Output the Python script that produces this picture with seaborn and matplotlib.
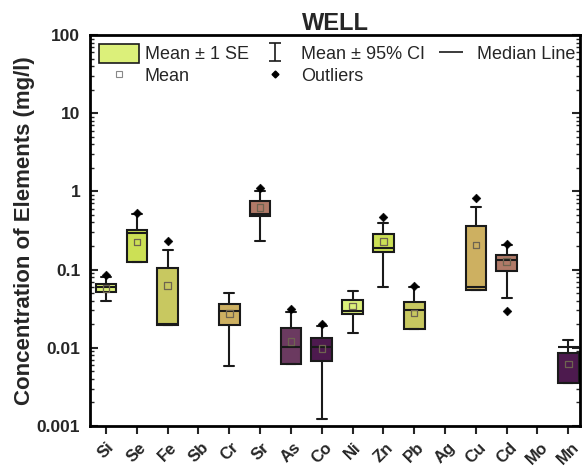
import numpy as np
import pandas as pd
import matplotlib
matplotlib.use("Agg")
import matplotlib.pyplot as plt
import seaborn as sns
from matplotlib.patches import Patch
from matplotlib.lines import Line2D
from matplotlib.legend_handler import HandlerErrorbar

# ---- data ----
elements = ["Si", "Se", "Fe", "Sb", "Cr", "Sr", "As", "Co",
            "Ni", "Zn", "Pb", "Ag", "Cu", "Cd", "Mo", "Mn"]
se_low   = [0.0512, 0.124, 0.0197, np.nan, 0.0197, 0.482, 0.00618, 0.00681,
            0.0270, 0.167, 0.0174, np.nan, 0.0549, 0.0971, np.nan, 0.00352]
se_high  = [0.0656, 0.323, 0.105, np.nan, 0.0363, 0.752, 0.0179, 0.01315,
            0.0409, 0.287, 0.0381, np.nan, 0.356, 0.154, np.nan, 0.00855]
medians  = [0.0605, 0.295, 0.0199, np.nan, 0.0298, 0.507, 0.0101, 0.0101,
            0.0298, 0.190, 0.0304, np.nan, 0.0593, 0.133, np.nan, 0.0103]
means    = [0.0576, 0.224, 0.0623, np.nan, 0.0275, 0.618, 0.0120, 0.0098,
            0.0343, 0.229, 0.0279, np.nan, 0.207, 0.127, np.nan, 0.00618]
ci_low   = [0.0392, 0.124, 0.0197, np.nan, 0.00588, 0.229, 0.00618, 0.00122,
            0.01525, 0.0605, 0.0174, np.nan, 0.0549, 0.0435, np.nan, 0.00352]
ci_high  = [0.0797, 0.507, 0.180, np.nan, 0.0503, 1.01, 0.0284, 0.01875,
            0.0533, 0.397, 0.0593, np.nan, 0.629, 0.209, np.nan, 0.0127]
outlier_elem = ["Si", "Se", "Fe", "Sr", "As", "Co", "Zn", "Pb", "Cu", "Cd", "Cd"]
outlier_vals = [0.0863, 0.53, 0.231, 1.11, 0.0313, 0.0201, 0.469, 0.061, 0.820, 0.212, 0.0298]
palette8 = ["#dcf07a", "#cce055", "#c8c860", "#ccbc60",
            "#cdb061", "#b07a68", "#6b3a60", "#4d1a4e"]

sns.set_theme(style="ticks")
plt.rcParams["font.family"] = ["Liberation Sans", "DejaVu Sans"]

fig = plt.figure(figsize=(5.83, 4.67), dpi=100)
ax = fig.add_axes([0.1544, 0.088, 0.8405, 0.837])

pos = np.arange(len(elements))
stats, bpos, cols = [], [], []
for i, e in enumerate(elements):
    if np.isnan(se_low[i]):
        continue
    stats.append(dict(med=medians[i], q1=se_low[i], q3=se_high[i],
                      whislo=ci_low[i], whishi=ci_high[i], fliers=[]))
    bpos.append(pos[i])
    cols.append(palette8[i % 8])

bp = ax.bxp(stats, positions=bpos, widths=0.67, patch_artist=True,
            showfliers=False, manage_ticks=False,
            boxprops=dict(edgecolor="#1a1a1a", linewidth=1.5),
            medianprops=dict(color="#1a1a1a", linewidth=1.5),
            whiskerprops=dict(color="#1a1a1a", linewidth=1.5),
            capprops=dict(color="#1a1a1a", linewidth=1.5), capwidths=0.33)
for patch, c in zip(bp["boxes"], cols):
    patch.set_facecolor(c)

mdf = pd.DataFrame({"element": elements, "x": pos, "mean": means}).dropna()
sns.scatterplot(data=mdf, x="x", y="mean", marker="s", s=22, facecolor="none",
                edgecolor="#6e6450", linewidth=0.9, ax=ax, zorder=5, legend=False)
odf = pd.DataFrame({"element": outlier_elem, "val": outlier_vals})
odf["x"] = odf["element"].map({e: i for i, e in enumerate(elements)})
sns.scatterplot(data=odf, x="x", y="val", marker="D", s=20, color="black",
                edgecolor="black", ax=ax, zorder=6, legend=False)

ax.set_yscale("log")
ax.set_ylim(0.001, 100)
ax.set_xlim(-0.52, 15.38)
ax.set_xticks(pos)
ax.set_xticklabels(elements, rotation=45, ha="center",
                   fontsize=12, fontweight="bold")
ax.set_yticks([0.001, 0.01, 0.1, 1, 10, 100])
ax.set_yticklabels(["0.001", "0.01", "0.1", "1", "10", "100"],
                   fontsize=12.5, fontweight="bold")
ax.set_xlabel("")
ax.set_ylabel("Concentration of Elements (mg/l)", fontsize=16, fontweight="bold",
              labelpad=1)
ax.set_title("WELL", fontsize=17, fontweight="bold", pad=2)

for sp in ax.spines.values():
    sp.set_linewidth(2)
    sp.set_color("black")
ax.tick_params(axis="x", direction="out", length=6, width=1.5, pad=4)
ax.tick_params(axis="y", which="major", direction="in", length=6, width=1.5,
               left=True, right=True, pad=7)
ax.tick_params(axis="y", which="minor", direction="in", length=3, width=1,
               left=True, right=True)

# legend
h_se = Patch(facecolor=palette8[0], edgecolor="#1a1a1a", linewidth=1.2)
eb = ax.errorbar([np.nan], [np.nan], yerr=[[np.nan], [np.nan]], fmt="none",
                 ecolor="#1a1a1a", capsize=4.5, elinewidth=1.2, capthick=1.2)
h_med = Line2D([], [], ls="none", marker="_", markersize=17, markeredgewidth=1.2,
               color="#1a1a1a")
h_mean = Line2D([], [], marker="s", ls="none", markersize=4, markerfacecolor="none",
                markeredgecolor="#888888", markeredgewidth=0.8)
h_out = Line2D([], [], marker="D", ls="none", markersize=3.5, color="black")
ax.legend([h_se, h_mean, eb, h_out, h_med],
          ["Mean ± 1 SE", "Mean", "Mean ± 95% CI", "Outliers", "Median Line"],
          ncol=3, loc="upper left", bbox_to_anchor=(0.0, 1.0), frameon=False,
          fontsize=13, handlelength=2.2, handleheight=1.2, columnspacing=0.35,
          handletextpad=0.33, labelspacing=0.15, borderaxespad=0.1,
          numpoints=1, handler_map={type(eb): HandlerErrorbar(xerr_size=0.5, yerr_size=0.5)})

fig.savefig("out.png", dpi=100)
